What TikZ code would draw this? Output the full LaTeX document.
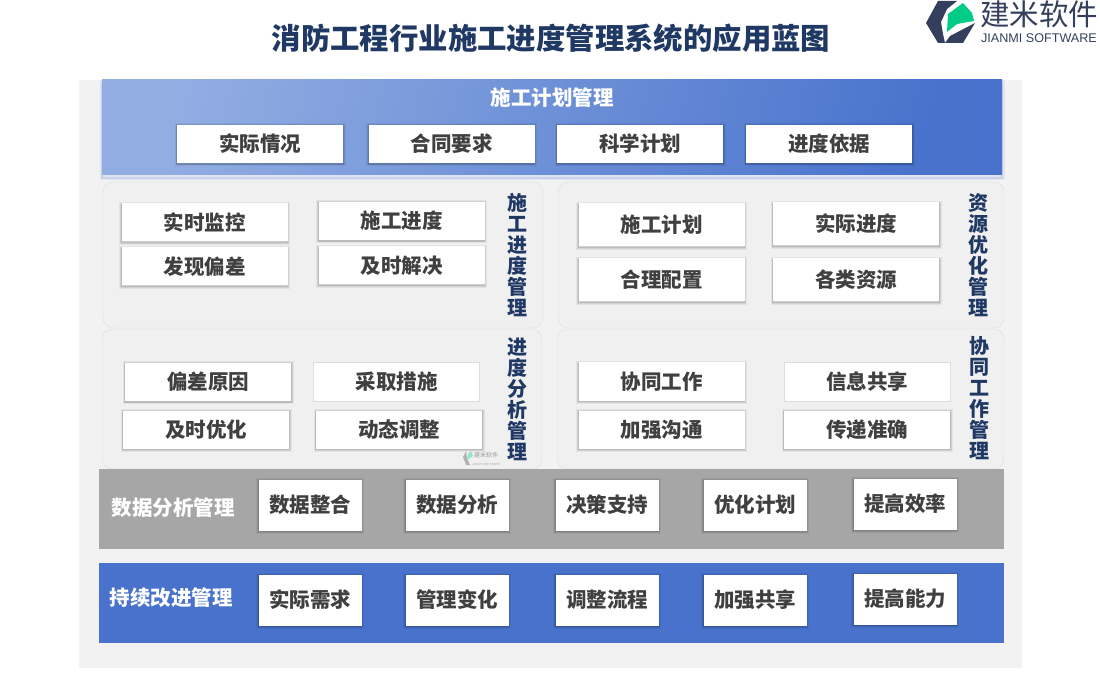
\documentclass[tikz,border=0pt]{standalone}
\usepackage{fontspec}
\usepackage{xcolor}
\setmainfont{Noto Sans CJK SC}
\newfontfamily\latinfont{Liberation Sans}
\definecolor{C_navy}{RGB}{31,56,100}
\definecolor{C_text}{RGB}{64,64,64}
\definecolor{C_page}{RGB}{242,242,242}
\definecolor{C_panel}{RGB}{240,240,240}
\definecolor{C_line}{RGB}{222,222,222}
\definecolor{C_grey}{RGB}{166,166,166}
\definecolor{C_blue}{RGB}{72,114,204}
\definecolor{C_light}{RGB}{146,173,226}
\definecolor{C_logo}{RGB}{51,63,92}
\definecolor{C_leaf}{RGB}{0,204,136}

\begin{document}
\begin{tikzpicture}[
    x=1pt, y=-1pt,
    flat/.style={draw=none, fill=white, inner sep=0pt, text=C_text,
        font=\fontsize{20.5}{21}\selectfont\bfseries},
    card/.style={flat,
        preaction={draw=black, opacity=0.05, line width=5pt, transform canvas={yshift=-0.8pt}},
        preaction={draw=black, opacity=0.08, line width=3pt, transform canvas={yshift=-0.8pt}},
        preaction={draw=black, opacity=0.10, line width=1.5pt, transform canvas={yshift=-0.8pt}}},
    wide/.style={card, minimum width=166pt, minimum height=38pt},
    tall/.style={card, minimum width=166pt, minimum height=43pt},
    square/.style={card, minimum width=103pt, minimum height=51pt},
    plain/.style={flat, draw=C_line, minimum width=166pt, minimum height=39pt},
    panel/.style={draw=C_line, fill=C_panel, rounded corners=10pt, inner sep=0pt},
    band/.style={draw=none, inner sep=0pt, minimum width=905pt, minimum height=80pt},
    head/.style={text=white, inner sep=0pt, font=\fontsize{20.5}{21}\selectfont\bfseries},
    side/.style={text=C_navy, inner sep=0pt, align=center, font=\fontsize{20}{21}\selectfont\bfseries},
]
\useasboundingbox (0,0) rectangle (1100,700);

% Page and title
\node[fill=C_page, minimum width=943pt, minimum height=588pt, inner sep=0pt] (page) at (550.5,374) {};
\node[text=C_navy, inner sep=0pt, font=\fontsize{29.4}{30}\selectfont\bfseries] (title) at (551,38) {消防工程行业施工进度管理系统的应用蓝图};

% Logo
\fill[C_logo] (938,1) -- (957,1) -- (947,9) -- (941,22) -- (943,34) -- (945,43) -- (938,43) -- (926,23) -- cycle;
\fill[C_logo] (945,43) -- (950,36) -- (975,23) -- (963,43) -- cycle;
\fill[C_leaf] (947,32) -- (948,14) -- (963,3) -- (972,13) -- (974,21) -- (957,24) -- cycle;
\node[text=C_logo, inner sep=0pt, font=\fontsize{29.5}{30}\selectfont] (logoname) at (1039,14) {建米软件};
\node[text=C_logo, inner sep=0pt, font=\fontsize{12.6}{13}\latinfont] (logosub) at (1039,38) {JIANMI SOFTWARE};

% Plan band
\node[band, minimum width=900pt, minimum height=95pt, left color=C_light, right color=C_blue, shading angle=75,
    preaction={draw=C_blue, opacity=0.10, line width=5pt, transform canvas={yshift=-3pt}},
    preaction={draw=C_blue, opacity=0.15, line width=2.5pt, transform canvas={yshift=-3pt}}] (planband) at (552,127.5) {};
\node[head] (planhead) at (552,98) {施工计划管理};
\node[wide] (p1) at (260,144) {实际情况};
\node[wide] (p2) at (451.5,144) {合同要求};
\node[wide] (p3) at (640,144) {科学计划};
\node[wide] (p4) at (829,144) {进度依据};

% Panels
\node[panel, minimum width=440pt, minimum height=146pt] (panelA) at (323,255) {};
\node[panel, minimum width=446pt, minimum height=146pt] (panelB) at (781,255) {};
\node[panel, minimum width=440pt, minimum height=140pt] (panelC) at (322,399) {};
\node[panel, minimum width=447pt, minimum height=140pt] (panelD) at (780.5,399) {};

% Construction progress
\node[wide] (a1) at (204.5,222.5) {实时监控};
\node[wide] (a2) at (204.5,266.5) {发现偏差};
\node[wide] (a3) at (401.5,221) {施工进度};
\node[wide] (a4) at (401.5,265.5) {及时解决};
\node[side] (sideA) at (517,255.5) {施\\工\\进\\度\\管\\理};

% Resource optimisation
\node[tall] (b1) at (661.5,225) {施工计划};
\node[tall] (b2) at (856,224) {实际进度};
\node[tall] (b3) at (661.5,280) {合理配置};
\node[tall] (b4) at (856,280) {各类资源};
\node[side] (sideB) at (978,255) {资\\源\\优\\化\\管\\理};

% Progress analysis
\node[wide] (c1) at (208,382) {偏差原因};
\node[plain] (c2) at (396.5,381.5) {采取措施};
\node[wide] (c3) at (206,429.5) {及时优化};
\node[wide] (c4) at (399,429.5) {动态调整};
\node[side] (sideC) at (517,399) {进\\度\\分\\析\\管\\理};
\fill[black!30] (466,451) -- (463,457) -- (466,465) -- (470,465) -- (467,458) -- cycle;
\fill[C_leaf!45] (467,460) -- (468,454) -- (471,451) -- (473,456) -- cycle;
\node[text=black!40, inner sep=0pt, font=\fontsize{6}{6}\selectfont] (mark) at (486,455) {建米软件};
\node[text=black!35, inner sep=0pt, font=\fontsize{3}{3}\latinfont] (marksub) at (486,464) {JIANMI SOFTWARE};

% Collaboration
\node[wide] (d1) at (661.5,381.5) {协同工作};
\node[plain] (d2) at (867,382) {信息共享};
\node[wide] (d3) at (661.5,429.5) {加强沟通};
\node[wide] (d4) at (867,429.5) {传递准确};
\node[side] (sideD) at (979,398) {协\\同\\工\\作\\管\\理};

% Data analysis
\node[band, fill=C_grey] (databand) at (551.5,509) {};
\node[head] (datahead) at (173,508) {数据分析管理};
\node[square] (e1) at (310,505) {数据整合};
\node[square] (e2) at (457,505) {数据分析};
\node[square] (e3) at (607,505) {决策支持};
\node[square] (e4) at (755,505) {优化计划};
\node[square] (e5) at (905,504) {提高效率};

% Continuous improvement
\node[band, fill=C_blue] (moreband) at (551.5,603) {};
\node[head] (morehead) at (171,598) {持续改进管理};
\node[square] (f1) at (310,600) {实际需求};
\node[square] (f2) at (457,600) {管理变化};
\node[square] (f3) at (607,600) {调整流程};
\node[square] (f4) at (755,600) {加强共享};
\node[square] (f5) at (905,599) {提高能力};
\end{tikzpicture}
\end{document}
